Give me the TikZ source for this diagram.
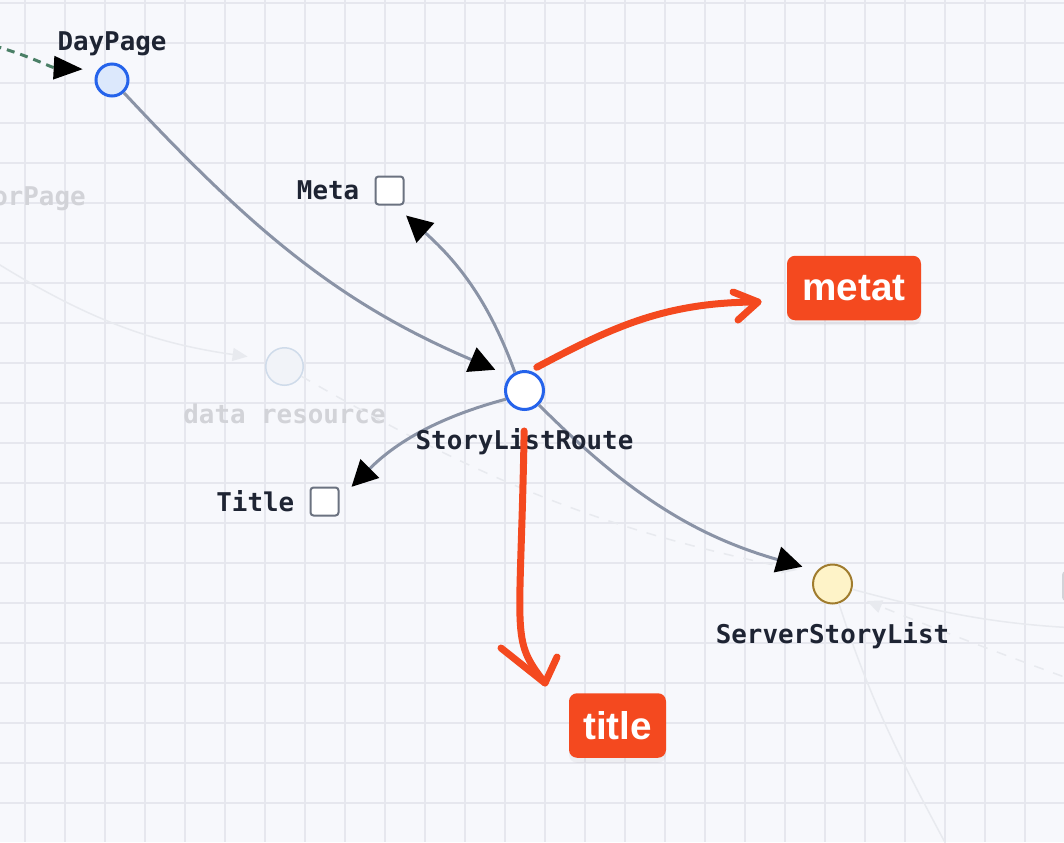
\documentclass[tikz,border=0pt]{standalone}
\usepackage{fontspec}
\setmonofont{DejaVu Sans Mono}
\newfontfamily\tagfont{Liberation Sans}
\usepackage{tikz}
\usetikzlibrary{arrows.meta, positioning, shadows}

\definecolor{canvas}{HTML}{F7F8FC}
\definecolor{gridgray}{HTML}{E6E7EE}
\definecolor{edgegray}{HTML}{8A93A6}
\definecolor{inkdark}{HTML}{1E2433}
\definecolor{routeblue}{HTML}{2563EB}
\definecolor{pagefill}{HTML}{DCE8FC}
\definecolor{serverfill}{HTML}{FEF3C8}
\definecolor{serverline}{HTML}{A07C2E}
\definecolor{boxline}{HTML}{6B7280}
\definecolor{markred}{HTML}{F4491F}
\definecolor{fadetext}{HTML}{D2D3D8}
\definecolor{fadeline}{HTML}{E8EAEF}
\definecolor{ghostline}{HTML}{CFDBEA}
\definecolor{ghostfill}{HTML}{F1F3F8}
\definecolor{flowgreen}{HTML}{4A7F66}

\begin{document}
\begin{tikzpicture}[
    x=0.02cm, y=-0.02cm,
    gridline/.style={gridgray, line width=0.04cm},
    comp/.style={circle, draw=routeblue, fill=white, line width=0.06cm, minimum size=0.76cm, inner sep=0pt},
    ghost/.style={circle, draw=ghostline, fill=ghostfill, line width=0.03cm, minimum size=0.75cm, inner sep=0pt},
    slot/.style={draw=boxline, fill=white, rounded corners=0.06cm, line width=0.04cm, minimum size=0.56cm, inner sep=0pt},
    caption/.style={font=\ttfamily\bfseries\fontsize{14.7}{17}\selectfont, text=inkdark, inner sep=0pt},
    faded/.style={caption, text=fadetext},
    link/.style={edgegray, line width=0.06cm, -{Triangle[length=0.52cm, width=0.52cm, color=black]}, shorten >=0.32cm},
    faint/.style={fadeline, line width=0.03cm},
    faintarrow/.style={faint, -{Triangle[length=0.3cm, width=0.26cm]}},
    faintdash/.style={dash pattern=on 0.2cm off 0.2cm},
    flow/.style={flowgreen, line width=0.06cm, dash pattern=on 0.16cm off 0.12cm, -{Triangle[length=0.58cm, width=0.46cm, color=black]}, shorten >=0.3cm},
    redmark/.style={markred, line width=0.14cm, line cap=round, line join=round},
    redtag/.style={fill=markred, text=white, rounded corners=0.16cm, minimum height=1.29cm, inner sep=0pt,
        font=\tagfont\bfseries\fontsize{22}{26}\selectfont,
        drop shadow={shadow xshift=0cm, shadow yshift=-0.1cm, opacity=0.08}}
]
\useasboundingbox (0,0) rectangle (1064,842);
\fill[canvas] (0,0) rectangle (1064,842);
\begin{scope}
\clip (0,0) rectangle (1064,842);
\foreach \gx in {25,65,...,1025} \draw[gridline] (\gx,0) -- (\gx,842);
\foreach \gy in {3,43,...,803} \draw[gridline] (0,\gy) -- (1064,\gy);

\coordinate (westA) at (-30,246);
\coordinate (westB) at (-20,42);
\coordinate (eastA) at (1100,629);
\coordinate (eastB) at (1100,690);
\coordinate (southA) at (965,880);

\node[faded, anchor=base east] (orpage) at (86,205) {orPage};
\node[ghost] (data) at (284.5,366.5) {};
\node[faded, below=0.35cm of data] (datalabel) {data resource};
\node[slot, draw=fadetext, fill=canvas] (edgeslot) at (1077,586) {};

\node[comp, fill=pagefill, minimum size=0.64cm] (day) at (112,80) {};
\node[comp] (slr) at (524.5,390.5) {};
\node[comp, fill=serverfill, draw=serverline, line width=0.04cm, minimum size=0.78cm] (ssl) at (832.5,584) {};
\node[slot] (metabox) at (389.5,190.5) {};
\node[slot] (titlebox) at (324.5,501.5) {};

\draw[faintarrow, shorten >=0.38cm] (westA) to[out=-33, in=172] (data.158);
\draw[faintarrow, faintdash, shorten >=0.36cm] (data) to[out=-30, in=168] (ssl.150);
\draw[faint] (ssl) to[out=-15, in=178] (eastA);
\draw[faintarrow, faintdash, shorten >=0.36cm] (eastB) to[out=160, in=-22] (ssl.-30);
\draw[faint] (ssl) to[out=-72, in=118] (southA);

\draw[flow] (westB) to[out=-14, in=177] (day.145);
\draw[link] (day) to[out=-47, in=157] (slr.135);
\draw[link, shorten >=0.3cm] (slr.118) to[out=110, in=-42] (metabox.-70);
\draw[link, shorten >=0.34cm] (slr.205) to[out=195, in=45] (titlebox.10);
\draw[link, shorten >=0.3cm] (slr) to[out=-45, in=164] (ssl.140);

\node[caption, above=0.13cm of day] (daylabel) {DayPage};
\node[caption, below=0.35cm of slr] (slrlabel) {StoryListRoute};
\node[caption, below=0.35cm of ssl] (ssllabel) {ServerStoryList};
\node[caption, left=0.3cm of metabox] (metalabel) {Meta};
\node[caption, left=0.3cm of titlebox] (titlelabel) {Title};

\node[redtag, minimum width=2.68cm] (metatag) at (854,288) {metat};
\node[redtag, minimum width=1.94cm] (titletag) at (617.5,725.5) {title};
\coordinate (metatip) at (758,302);
\coordinate (titletip) at (545,683);

\draw[redmark, shorten <=0.15cm] (slr.74) to[out=28, in=180] (metatip);
\draw[redmark] ([shift={(-25,-10)}]metatip) -- (metatip) -- ++(-20,18);
\draw[redmark, shorten <=0.4cm] (slr.south) .. controls +(-4,230) and +(-35,-45) .. (titletip);
\draw[redmark] ([shift={(-44,-35)}]titletip) -- (titletip) -- ++(12,-26);
\end{scope}
\end{tikzpicture}
\end{document}
